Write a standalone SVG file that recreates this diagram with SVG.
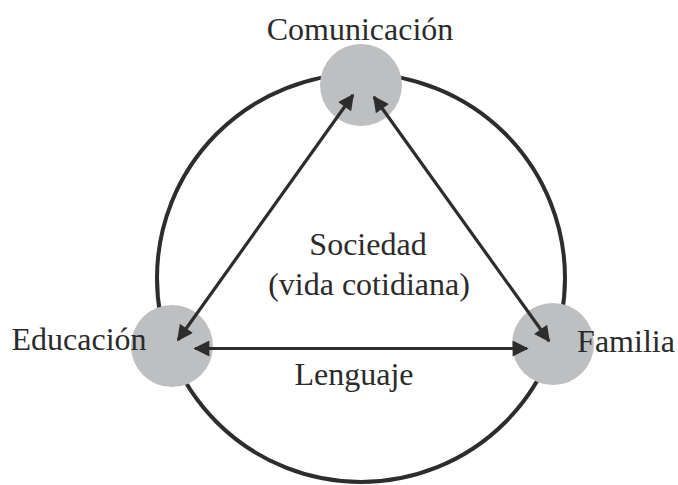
<svg xmlns="http://www.w3.org/2000/svg" width="678" height="485" viewBox="0 0 678 485">
<defs>
<style>
.ring{fill:none;stroke:#2d2d2d;stroke-width:4}
.node{fill:#bebfc1}
.arr{stroke:#2d2d2d;stroke-width:3.2;fill:none;marker-start:url(#ah);marker-end:url(#ah)}
.t{font-family:"Liberation Serif","Times New Roman",serif;font-size:32px;fill:#2b2b2b;text-anchor:middle}
</style>
<marker id="ah" viewBox="0 0 10 10" refX="9" refY="5" markerWidth="5.5" markerHeight="5" orient="auto-start-reverse" markerUnits="strokeWidth">
<path d="M0,0 L10,5 L0,10 z" fill="#2d2d2d"/>
</marker>
</defs>
<rect width="678" height="485" fill="#ffffff"/>
<circle class="ring" cx="361" cy="278" r="204"/>
<g id="node-comunicacion">
<circle class="node" cx="361" cy="85" r="41"/>
<text class="t" x="360" y="40">Comunicación</text>
</g>
<g id="node-educacion">
<circle class="node" cx="172" cy="346" r="41"/>
<text class="t" x="79" y="350">Educación</text>
</g>
<g id="node-familia">
<circle class="node" cx="553" cy="344" r="41"/>
<text class="t" x="626" y="352">Familia</text>
</g>
<g id="node-sociedad">
<text class="t" x="368" y="255">Sociedad</text>
<text class="t" x="369" y="295">(vida cotidiana)</text>
</g>
<g id="connectors">
<line class="arr" x1="178" y1="340" x2="353" y2="95"/>
<line class="arr" x1="374" y1="97" x2="549" y2="341"/>
<line class="arr" x1="195" y1="348.5" x2="527" y2="348.5"/>
<text class="t" x="354" y="385">Lenguaje</text>
</g>
</svg>
